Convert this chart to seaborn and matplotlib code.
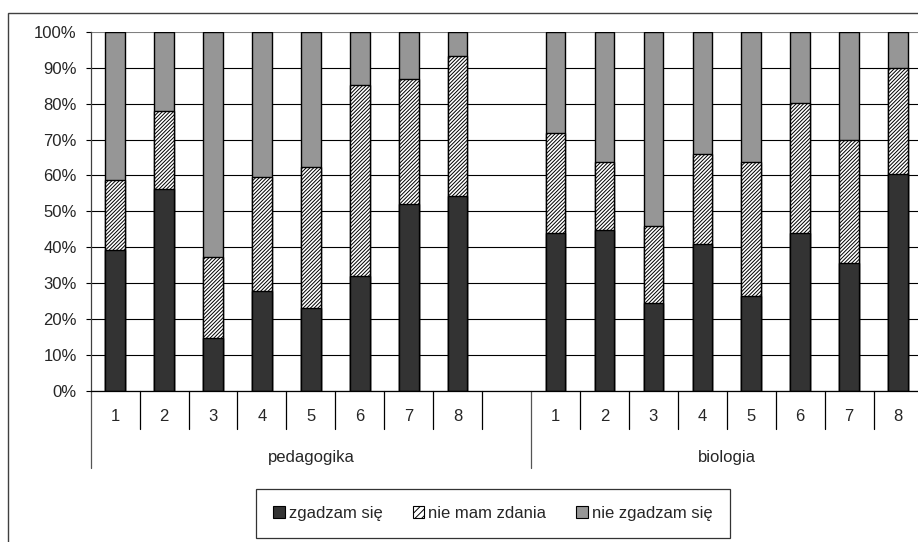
import matplotlib
matplotlib.use("Agg")
import matplotlib.pyplot as plt
import matplotlib.transforms as mtransforms
from matplotlib.patches import Patch, Rectangle
from matplotlib.lines import Line2D
import seaborn as sns
import pandas as pd

# Data (percent of answers)
groups = ["pedagogika", "biologia"]
questions = ["1", "2", "3", "4", "5", "6", "7", "8"]
series = ["zgadzam się", "nie mam zdania", "nie zgadzam się"]

agree_ped = [39.3, 56.1, 14.6, 27.7, 23.1, 32.0, 52.1, 54.3]
neutral_ped = [19.4, 21.9, 22.8, 31.9, 39.3, 53.2, 34.9, 39.0]
disagree_ped = [41.3, 22.0, 62.6, 40.4, 37.6, 14.8, 13.0, 6.7]

agree_bio = [44.0, 44.7, 24.4, 41.0, 26.3, 44.0, 35.7, 60.3]
neutral_bio = [27.7, 19.0, 21.4, 24.9, 37.4, 36.3, 34.3, 29.7]
disagree_bio = [28.3, 36.3, 54.2, 34.1, 36.3, 19.7, 30.0, 10.0]

colors = ["#333333", "white", "#969696"]
hatch = "/////////"

# build long table, one row per bar
rows = []
for g, a, n, d in [(groups[0], agree_ped, neutral_ped, disagree_ped),
                   (groups[1], agree_bio, neutral_bio, disagree_bio)]:
    for q, av, nv, dv in zip(questions, a, n, d):
        rows.append({"slot": f"{g} {q}", "group": g, "q": q,
                     "agree": av, "mid": av + nv, "total": av + nv + dv})
df = pd.DataFrame(rows)

# one empty slot after the first group
order = [f"{groups[0]} {q}" for q in questions] + ["gap"] + [f"{groups[1]} {q}" for q in questions]

sns.set_theme(style="white")
plt.rcParams["font.family"] = ["Liberation Sans", "DejaVu Sans"]
plt.rcParams["hatch.color"] = "black"
plt.rcParams["hatch.linewidth"] = 0.7

fig = plt.figure(figsize=(9.18, 5.42), dpi=100)
ax = fig.add_axes([0.0988, 0.2792, 0.9061, 0.6618])

common = dict(data=df, x="slot", order=order, width=0.4, saturation=1,
              edgecolor="black", linewidth=1.0, errorbar=None, ax=ax)
sns.barplot(y="total", color=colors[2], **common)
sns.barplot(y="mid", color=colors[1], hatch=hatch, **common)
sns.barplot(y="agree", color=colors[0], **common)

ax.set_xlim(-0.5, len(order) - 0.5)
ax.set_ylim(0, 100)
ax.set_yticks(range(0, 101, 10))
ax.set_yticklabels([f"{v}%" for v in range(0, 101, 10)], fontsize=12)
ax.set_xticks([])
ax.set_xlabel("")
ax.set_ylabel("")
ax.tick_params(axis="y", direction="out", length=3.6, width=0.8, color="black", pad=6.5, left=True)

ax.set_axisbelow(True)
ax.yaxis.grid(True, color="black", linewidth=0.8)
ax.yaxis.get_gridlines()[-1].set_color("#808080")
for s in ["top", "right"]:
    ax.spines[s].set_visible(False)
ax.spines["left"].set_color("#404040")
ax.spines["bottom"].set_color("black")
ax.spines["left"].set_linewidth(0.9)
ax.spines["bottom"].set_linewidth(0.9)

# category axis: labels and divider lines below the plot
trans = mtransforms.blended_transform_factory(ax.transData, ax.transAxes)
for i, slot in enumerate(order):
    if slot == "gap":
        continue
    ax.text(i, -0.0725, slot.split()[-1], transform=trans, ha="center", va="center", fontsize=12)

gap_idx = order.index("gap")
group_edges = [-0.5, gap_idx + 0.5, len(order) - 0.5]
for k in range(len(order) + 1):
    x = k - 0.5
    if x in group_edges:
        ax.add_line(Line2D([x, x], [0, -0.2147], transform=trans, color="#555555", lw=0.9, clip_on=False))
    else:
        ax.add_line(Line2D([x, x], [0, -0.1076], transform=trans, color="black", lw=0.9, clip_on=False))

for g, (x0, x1) in zip(groups, zip(group_edges[:-1], group_edges[1:])):
    ax.text((x0 + x1) / 2, -0.185, g, transform=trans, ha="center", va="center", fontsize=12)

# chart area border (only left and top visible in the crop)
fig.patches.append(Rectangle((8 / 918, -0.2), 1.2, 1.2 - 13 / 542, transform=fig.transFigure,
                             fill=False, edgecolor="#404040", linewidth=1.0))

handles = [Patch(facecolor=colors[0], edgecolor="black", linewidth=0.8),
           Patch(facecolor=colors[1], edgecolor="black", linewidth=0.8, hatch="/////"),
           Patch(facecolor=colors[2], edgecolor="black", linewidth=0.8)]
leg = fig.legend(handles, series, loc="center", bbox_to_anchor=(493 / 918, 1 - 513.5 / 542),
                 ncol=3, fontsize=12, frameon=True, fancybox=False, edgecolor="black",
                 handlelength=0.7, handleheight=0.7, handletextpad=0.25, columnspacing=1.8,
                 borderpad=1.0)
leg.get_frame().set_linewidth(0.9)

fig.savefig("out.png", dpi=100)
